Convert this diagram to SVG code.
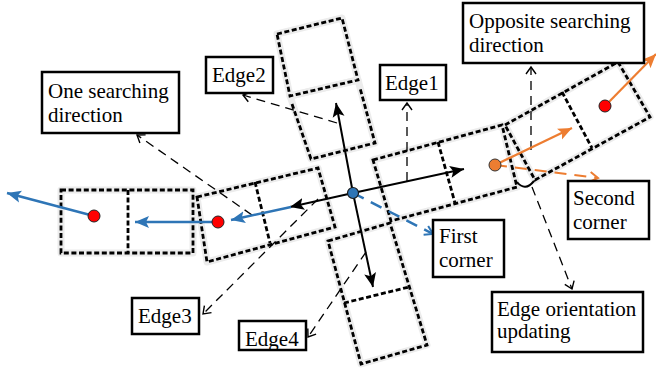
<svg xmlns="http://www.w3.org/2000/svg" width="656" height="371" viewBox="0 0 656 371">
  <style>
    .halo { fill: none; stroke: #ececec; stroke-width: 7; stroke-linejoin: round; }
    .cell { fill: none; stroke: #000; stroke-width: 2.8; stroke-dasharray: 5 2.6; stroke-linejoin: miter; }
    .box { fill: #fff; stroke: #000; stroke-width: 2.5; }
    .label { font-family: "Liberation Serif", "Times New Roman", serif; font-size: 21px; fill: #000; }
    .leader { fill: none; stroke: #000; stroke-width: 1.3; stroke-dasharray: 9 6; }
    .dir { fill: none; stroke: #000; stroke-width: 2; }
    .blue { fill: none; stroke: #2E75B6; stroke-width: 2.5; }
    .orange { fill: none; stroke: #ED7D31; stroke-width: 2.2; }
  </style>
  <defs>
    <marker id="open" markerUnits="userSpaceOnUse" markerWidth="12" markerHeight="12" refX="8" refY="5" orient="auto" viewBox="0 0 12 10">
      <path d="M1,0 L8,5 L1,10" fill="none" stroke="#000" stroke-width="1.4"/>
    </marker>
    <marker id="headBlack" markerUnits="userSpaceOnUse" markerWidth="16" markerHeight="14" refX="14" refY="6" orient="auto" viewBox="0 0 16 12">
      <path d="M0,0 L14,6 L0,12 L3,6 z" fill="#000"/>
    </marker>
    <marker id="headBlue" markerUnits="userSpaceOnUse" markerWidth="16" markerHeight="14" refX="14" refY="6" orient="auto" viewBox="0 0 16 12">
      <path d="M0,0 L14,6 L0,12 L3,6 z" fill="#2E75B6"/>
    </marker>
    <marker id="headOrange" markerUnits="userSpaceOnUse" markerWidth="16" markerHeight="14" refX="14" refY="6" orient="auto" viewBox="0 0 16 12">
      <path d="M0,0 L14,6 L0,12 L3,6 z" fill="#ED7D31"/>
    </marker>
    <marker id="openBlue" markerUnits="userSpaceOnUse" markerWidth="12" markerHeight="12" refX="9" refY="5" orient="auto" viewBox="0 0 12 10">
      <path d="M1,0 L9,5 L1,10" fill="none" stroke="#2E75B6" stroke-width="2"/>
    </marker>
    <marker id="openOrange" markerUnits="userSpaceOnUse" markerWidth="12" markerHeight="12" refX="9" refY="5" orient="auto" viewBox="0 0 12 10">
      <path d="M1,0 L9,5 L1,10" fill="none" stroke="#ED7D31" stroke-width="2"/>
    </marker>
  </defs>

  <rect width="656" height="371" fill="#fff"/>

  <!-- search cells: soft halo first, dashed outline on top; shared sides drawn once -->
  <g id="cells">
    <g class="halo">
      <rect x="61" y="190" width="132" height="63"/>
      <polygon points="197,197 318,168 335,227 207,262"/>
      <polygon points="277,34 342,18 358,80 290,96"/>
      <polygon points="290,96 358,80 375,143 311,159"/>
      <polygon points="328,241 390,223 427,345 361,364"/>
      <polygon points="373,160 502,125 517,187 391,221"/>
      <polygon points="505,125 618,62 650,117 535,180"/>
    </g>
    <g class="cell">
      <!-- far-left pair -->
      <rect x="61" y="190" width="132" height="63"/>
      <line x1="128" y1="190" x2="128" y2="253"/>
      <!-- left arm -->
      <polygon points="197,197 318,168 335,227 207,262"/>
      <line x1="255" y1="182" x2="270" y2="243"/>
      <!-- upper arm -->
      <polygon points="277,34 342,18 358,80 290,96"/>
      <path d="M292,104 L311,159 L375,143 L360,88"/>
      <!-- lower arm -->
      <polygon points="328,241 390,223 427,345 361,364"/>
      <line x1="344" y1="303" x2="409" y2="287"/>
      <!-- right arm -->
      <polygon points="373,160 502,125 517,187 391,221"/>
      <line x1="438" y1="142" x2="455" y2="203"/>
      <!-- updated orientation -->
      <polygon points="505,125 618,62 650,117 535,180"/>
      <line x1="562" y1="92" x2="592" y2="148"/>
    </g>
  </g>

  <g id="connectors">
    <!-- label leaders -->
    <line class="leader" x1="407" y1="181" x2="407" y2="103" marker-end="url(#open)"/>
    <line class="leader" x1="337" y1="123" x2="243" y2="95" marker-end="url(#open)"/>
    <line class="leader" x1="318" y1="199" x2="203" y2="314" marker-end="url(#open)"/>
    <line class="leader" x1="366" y1="252" x2="308" y2="337" marker-end="url(#open)"/>
    <line class="leader" x1="252" y1="215" x2="137" y2="135" marker-end="url(#open)"/>
    <line class="leader" x1="531" y1="150" x2="531" y2="67" marker-end="url(#open)"/>
    <line class="leader" x1="532" y1="187" x2="572" y2="289" marker-end="url(#open)"/>

    <!-- edge directions from the seed point -->
    <line class="dir" x1="353" y1="193" x2="464" y2="169" marker-end="url(#headBlack)"/>
    <line class="dir" x1="353" y1="193" x2="290" y2="207" marker-end="url(#headBlack)"/>
    <line class="dir" x1="353" y1="193" x2="336" y2="103" marker-end="url(#headBlack)"/>
    <line class="dir" x1="353" y1="193" x2="373" y2="287" marker-end="url(#headBlack)"/>

    <!-- search steps toward the left -->
    <line class="blue" x1="291" y1="207" x2="231" y2="220" marker-end="url(#headBlue)"/>
    <line class="blue" x1="218" y1="222" x2="135" y2="222" marker-end="url(#headBlue)"/>
    <line class="blue" x1="94" y1="216" x2="7" y2="193" marker-end="url(#headBlue)"/>
    <line class="blue" x1="353" y1="193" x2="433" y2="234" stroke-width="2.2" stroke-dasharray="12 8" marker-end="url(#openBlue)"/>

    <!-- search steps toward the right -->
    <line class="orange" x1="495" y1="165" x2="572" y2="128" marker-end="url(#headOrange)"/>
    <line class="orange" x1="495" y1="165" x2="598" y2="178" stroke-dasharray="12 8" marker-end="url(#openOrange)"/>
    <line class="orange" x1="605" y1="106" x2="656" y2="54" marker-end="url(#headOrange)"/>

    <!-- orientation change marker -->
    <path d="M517,182 Q525,192 534,181" fill="none" stroke="#000" stroke-width="2"/>
  </g>

  <g id="points">
    <circle cx="353" cy="193" r="5.5" fill="#2E75B6" stroke="#1a1a1a" stroke-width="1.2"/>
    <circle cx="218" cy="222" r="6" fill="#f00" stroke="#222" stroke-width="1"/>
    <circle cx="94" cy="216" r="6" fill="#f00" stroke="#222" stroke-width="1"/>
    <circle cx="605" cy="106" r="6" fill="#f00" stroke="#222" stroke-width="1"/>
    <circle cx="495" cy="165" r="6" fill="#ED7D31" stroke="#333" stroke-width="1"/>
  </g>

  <g id="one-searching-direction">
    <rect class="box" x="42" y="72" width="137" height="61"/>
    <text class="label" x="48" y="98">One searching</text>
    <text class="label" x="48" y="122">direction</text>
  </g>
  <g id="edge2">
    <rect class="box" x="206" y="57" width="67" height="36"/>
    <text class="label" x="212" y="82">Edge2</text>
  </g>
  <g id="edge1">
    <rect class="box" x="380" y="65" width="66" height="35"/>
    <text class="label" x="385" y="90">Edge1</text>
  </g>
  <g id="opposite-searching-direction">
    <rect class="box" x="463" y="3" width="181" height="60"/>
    <text class="label" x="469" y="28">Opposite searching</text>
    <text class="label" x="469" y="52">direction</text>
  </g>
  <g id="edge3">
    <rect class="box" x="132" y="298" width="67" height="36"/>
    <text class="label" x="138" y="323">Edge3</text>
  </g>
  <g id="edge4">
    <rect class="box" x="239" y="321" width="67" height="29"/>
    <text class="label" x="245" y="346">Edge4</text>
  </g>
  <g id="first-corner">
    <rect class="box" x="433" y="220" width="71" height="57"/>
    <text class="label" x="439" y="243">First</text>
    <text class="label" x="439" y="267">corner</text>
  </g>
  <g id="second-corner">
    <rect class="box" x="568" y="181" width="81" height="58"/>
    <text class="label" x="573" y="205">Second</text>
    <text class="label" x="573" y="229">corner</text>
  </g>
  <g id="edge-orientation-updating">
    <rect class="box" x="492" y="292" width="151" height="60"/>
    <text class="label" x="497" y="316">Edge orientation</text>
    <text class="label" x="497" y="338">updating</text>
  </g>
</svg>
